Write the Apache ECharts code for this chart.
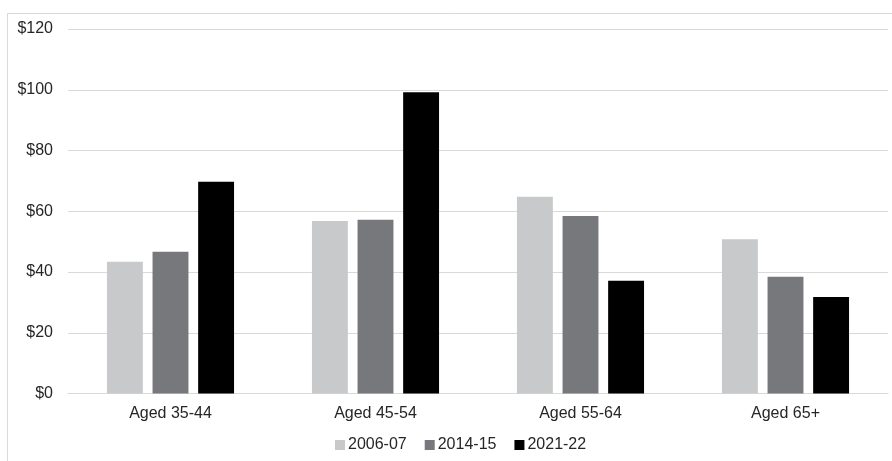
<!DOCTYPE html>
<html>
<head>
<meta charset="UTF-8"/>
<script src="https://cdn.jsdelivr.net/npm/echarts@6/dist/echarts.min.js"></script>
<style>
  html, body { margin: 0; padding: 0; background: #fff; }
  #main { width: 892px; height: 461px; }
</style>
</head>
<body>
<div id="main"></div>
<script type="text/javascript">
  // categories and series
  var categories = ['Aged 35-44', 'Aged 45-54', 'Aged 55-64', 'Aged 65+'];
  var seriesNames = ['2006-07', '2014-15', '2021-22'];
  var v2006 = [43.4, 56.8, 64.8, 50.8];
  var v2014 = [46.7, 57.2, 58.4, 38.4];
  var v2021 = [69.7, 99.2, 37.1, 31.8];
  var colors = ['#c8c9cb', '#77787b', '#000000'];

  var myChart = echarts.init(document.getElementById('main'));

  var allValues = [v2006, v2014, v2021];
  var series = [];
  for (var i = 0; i < seriesNames.length; i++) {
    series.push({
      name: seriesNames[i],
      type: 'bar',
      data: allValues[i],
      barGap: '27%',
      barCategoryGap: '38%',
      itemStyle: { color: colors[i] }
    });
  }

  var option = {
    animation: false,
    textStyle: { fontFamily: 'Liberation Sans, Arial, sans-serif' },
    graphic: [{
      type: 'rect',
      shape: { x: 7.5, y: 13.5, width: 900, height: 460 },
      style: { fill: 'none', stroke: '#d9d9d9', lineWidth: 1 },
      z: -1
    }],
    grid: { left: 68, right: 4, top: 29, bottom: 67.5, containLabel: false },
    legend: {
      data: seriesNames,
      top: 432,
      left: 330,
      itemWidth: 10,
      itemHeight: 10,
      itemGap: 18,
      icon: 'rect',
      textStyle: { fontSize: 16, color: '#262626', fontFamily: 'Liberation Sans, Arial, sans-serif', padding: [0, 0, 0, -2] }
    },
    xAxis: {
      type: 'category',
      data: categories,
      axisTick: { show: false },
      axisLine: { lineStyle: { color: '#d9d9d9' } },
      axisLabel: { fontSize: 16, color: '#262626', margin: 12 }
    },
    yAxis: {
      type: 'value',
      min: 0,
      max: 120,
      interval: 20,
      axisLabel: {
        fontSize: 16,
        color: '#262626',
        margin: 15,
        formatter: function (v) { return '$' + v; }
      },
      splitLine: { lineStyle: { color: '#d9d9d9' } }
    },
    series: series
  };
  myChart.setOption(option);
</script>
</body>
</html>
